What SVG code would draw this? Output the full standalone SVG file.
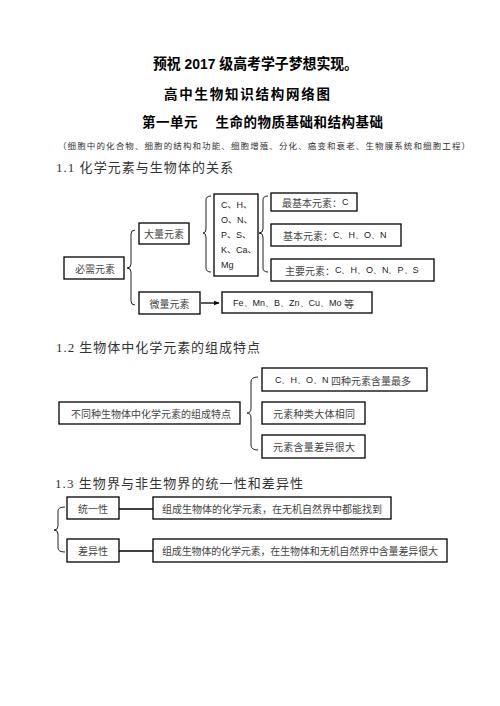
<svg xmlns="http://www.w3.org/2000/svg" width="500" height="706" viewBox="0 0 500 706">
<style>
.bg{fill:#fff}
.box{fill:#fff;stroke:#000;stroke-width:1.3}
.brace{fill:none;stroke:#222;stroke-width:1}
.conn{fill:none;stroke:#000;stroke-width:1.3}
.t{font-family:"Noto Sans CJK SC","Noto Sans",sans-serif;font-size:10px;fill:#444;dominant-baseline:central}
.s{font-family:"Liberation Sans","Noto Sans CJK SC",sans-serif;font-size:9px;fill:#222;dominant-baseline:central}
.h1{font-family:"Liberation Sans","Noto Sans CJK SC",sans-serif;font-size:15px;font-weight:bold;fill:#000;dominant-baseline:central}
.h2{font-family:"Noto Sans CJK SC",sans-serif;font-size:13.5px;font-weight:bold;fill:#000;dominant-baseline:central}
.sub{font-family:"Noto Sans CJK SC",sans-serif;font-size:8.5px;fill:#333;dominant-baseline:central}
.sec{font-family:"Liberation Serif","Noto Sans CJK SC",serif;font-size:13px;fill:#333;dominant-baseline:central}
</style>
<defs>
<marker id="arr" viewBox="0 0 10 10" refX="9" refY="5" markerWidth="6" markerHeight="6" orient="auto" markerUnits="userSpaceOnUse">
<path d="M0,1 L10,5 L0,9 z" fill="#000"/>
</marker>
</defs>
<rect class="bg" x="0" y="0" width="500" height="706"/>

<g id="titles">
<text class="h1" x="153" y="63" textLength="205" lengthAdjust="spacingAndGlyphs">预祝 2017 级高考学子梦想实现。</text>
<text class="h2" x="164" y="93" textLength="166" lengthAdjust="spacing">高中生物知识结构网络图</text>
<text class="h2" x="142" y="121" textLength="241" lengthAdjust="spacing">第一单元　 生命的物质基础和结构基础</text>
<text class="sub" x="58" y="145" textLength="412" lengthAdjust="spacing">（细胞中的化合物、细胞的结构和功能、细胞增殖、分化、癌变和衰老、生物膜系统和细胞工程）</text>
<text class="sec" x="56" y="167" textLength="177" lengthAdjust="spacing">1.1 化学元素与生物体的关系</text>
<text class="sec" x="56" y="347" textLength="204" lengthAdjust="spacing">1.2 生物体中化学元素的组成特点</text>
<text class="sec" x="55" y="483" textLength="248" lengthAdjust="spacing">1.3 生物界与非生物界的统一性和差异性</text>
</g>

<g id="connectors">
<path class="brace" d="M135,230 Q131,230 131,234 L131,264 Q131,268 127,268 Q131,268 131,272 L131,301 Q131,305 135,305"/>
<path class="brace" d="M211,196 Q206,196 206,200 L206,229 Q206,233 203,233 Q206,233 206,237 L206,268 Q206,272 211,272"/>
<path class="brace" d="M268,196 Q263,196 263,200 L263,229 Q263,233 259,233 Q263,233 263,237 L263,268 Q263,272 268,272"/>
<path class="brace" d="M258,377 Q251,377 251,382 L251,408 Q251,413 247,413 Q251,413 251,418 L251,445 Q251,450 258,450"/>
<path class="brace" d="M65,507 Q58,507 58,511 L58,526 Q58,530 54,530 Q58,530 58,534 L58,548 Q58,552 65,552"/>
<line class="conn" x1="201" y1="303" x2="219" y2="303" marker-end="url(#arr)"/>
<line class="conn" x1="119" y1="509" x2="153" y2="509"/>
<line class="conn" x1="119" y1="551" x2="153" y2="551"/>
</g>

<g id="n-bixu">
<rect class="box" x="64" y="257" width="60" height="22"/>
<text class="t" x="95" y="268" text-anchor="middle">必需元素</text>
</g>
<g id="n-daliang">
<rect class="box" x="139" y="223" width="50" height="21"/>
<text class="t" x="164" y="233.5" text-anchor="middle">大量元素</text>
</g>
<g id="n-elements">
<rect class="box" x="214" y="194" width="44" height="82"/>
<text class="s" x="221" y="205">C、H、</text>
<text class="s" x="221" y="220">O、N、</text>
<text class="s" x="221" y="235">P、S、</text>
<text class="s" x="221" y="250">K、Ca、</text>
<text class="s" x="221" y="265">Mg</text>
</g>
<g id="n-zuijiben">
<rect class="box" x="271" y="193" width="86" height="18"/>
<text class="t" x="282" y="202"><tspan>最基本元素：</tspan><tspan class="s" style="font-family:'Liberation Sans',sans-serif;font-size:9px">C</tspan></text>
</g>
<g id="n-jiben">
<rect class="box" x="271" y="224" width="130" height="22"/>
<text class="t" x="283" y="235"><tspan>基本元素：</tspan><tspan style="font-family:'Liberation Sans',sans-serif;font-size:9px;fill:#222">C、H、O、N</tspan></text>
</g>
<g id="n-zhuyao">
<rect class="box" x="271" y="259" width="163" height="22"/>
<text class="t" x="285" y="270"><tspan>主要元素：</tspan><tspan style="font-family:'Liberation Sans',sans-serif;font-size:9px;fill:#222">C、H、O、N、P、S</tspan></text>
</g>
<g id="n-weiliang">
<rect class="box" x="139" y="292" width="61" height="22"/>
<text class="t" x="169.5" y="303" text-anchor="middle">微量元素</text>
</g>
<g id="n-fe">
<rect class="box" x="222" y="292" width="150" height="21"/>
<text class="t" x="233" y="302.5"><tspan style="font-family:'Liberation Sans',sans-serif;font-size:9px;fill:#222">Fe、Mn、B、Zn、Cu、Mo </tspan><tspan>等</tspan></text>
</g>

<g id="n-butong">
<rect class="box" x="59" y="402" width="181" height="22"/>
<text class="t" x="71" y="413" textLength="160" lengthAdjust="spacing">不同种生物体中化学元素的组成特点</text>
</g>
<g id="n-chon">
<rect class="box" x="262" y="368" width="165" height="23"/>
<text class="t" x="275" y="379.5"><tspan style="font-family:'Liberation Sans',sans-serif;font-size:9px;fill:#222">C、H、O、N </tspan><tspan>四种元素含量最多</tspan></text>
</g>
<g id="n-zhonglei">
<rect class="box" x="262" y="402" width="103" height="22"/>
<text class="t" x="273" y="413" textLength="82" lengthAdjust="spacing">元素种类大体相同</text>
</g>
<g id="n-hanliang">
<rect class="box" x="262" y="435" width="103" height="23"/>
<text class="t" x="273" y="446.5" textLength="82" lengthAdjust="spacing">元素含量差异很大</text>
</g>

<g id="n-tongyi">
<rect class="box" x="67" y="497" width="52" height="22"/>
<text class="t" x="93" y="508" text-anchor="middle">统一性</text>
</g>
<g id="n-tongyi-desc">
<rect class="box" x="153" y="497" width="238" height="22"/>
<text class="t" x="162" y="508" textLength="220" lengthAdjust="spacing">组成生物体的化学元素，在无机自然界中都能找到</text>
</g>
<g id="n-chayi">
<rect class="box" x="67" y="539" width="52" height="23"/>
<text class="t" x="93" y="550.5" text-anchor="middle">差异性</text>
</g>
<g id="n-chayi-desc">
<rect class="box" x="153" y="539" width="294" height="23"/>
<text class="t" x="162" y="550.5" textLength="276" lengthAdjust="spacing">组成生物体的化学元素，在生物体和无机自然界中含量差异很大</text>
</g>
</svg>
